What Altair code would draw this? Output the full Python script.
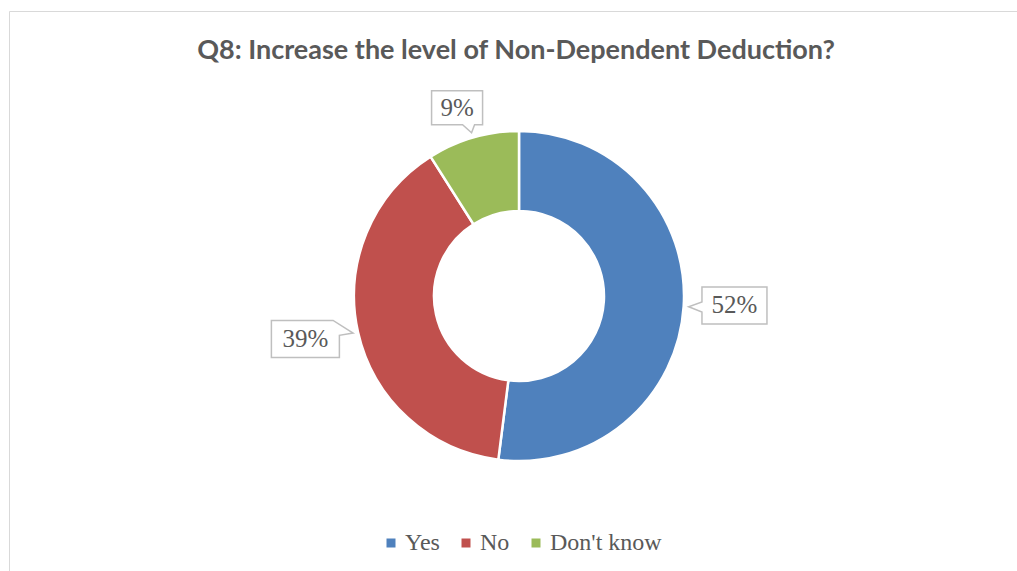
import math
import altair as alt
import pandas as pd

# ---- data ----
categories = ["Yes", "No", "Don't know"]
values = [52, 39, 9]
label_texts = ["52%", "39%", "9%"]
title_text = "Q8: Increase the level of Non-Dependent Deduction?"

# ---- styles / layout ----
colors = ["#4F81BD", "#C0504D", "#9BBB59"]
TEXT_COLOR = "#595959"
W, H = 1017, 571
CX, CY = 519, 296
R_OUT, R_IN = 165, 85
TIP_R = 170

# callout box shapes (pixel units, centred on label), with pointer tip offset
callouts = {
    "Yes": dict(path="M -32.5,-18.5 L 32.5,-18.5 L 32.5,18.5 L -32.5,18.5 L -32.5,6.5 L -45.8,1.2 L -32.5,-3.5 Z",
                tip=(-45.8, 1.2)),
    "No": dict(path="M -34,-18.5 L 27.7,-18.5 L 47.7,-5.8 L 34,-3.5 L 34,18.5 L -34,18.5 Z",
               tip=(47.7, -5.8)),
    "Don't know": dict(path="M -25.5,-17 L 25.5,-17 L 25.5,17 L 17.5,17 L 14.5,25 L 5.5,17 L -25.5,17 Z",
                       tip=(14.5, 25)),
}

total = sum(values)
rows = []
cum = 0
for i, (c, v, t) in enumerate(zip(categories, values, label_texts)):
    mid = (cum + v / 2) / total * 2 * math.pi
    cum += v
    tx = CX + TIP_R * math.sin(mid)
    ty = CY - TIP_R * math.cos(mid)
    ox, oy = callouts[c]["tip"]
    rows.append(dict(cat=c, value=v, idx=i, label=t, lx=tx - ox, ly=ty - oy))
df = pd.DataFrame(rows)

one = alt.Data(values=[{}])

frame_top = alt.Chart(one).mark_rule(color="#d9d9d9", strokeWidth=1).encode(
    x=alt.value(9.5), x2=alt.value(W), y=alt.value(11.5), y2=alt.value(11.5))
frame_left = alt.Chart(one).mark_rule(color="#d9d9d9", strokeWidth=1).encode(
    x=alt.value(9.5), x2=alt.value(9.5), y=alt.value(11.5), y2=alt.value(H))

title = alt.Chart(one).mark_text(
    text=title_text, font="Lato", fontWeight="bold", fontSize=27, color=TEXT_COLOR,
    align="center", baseline="alphabetic").encode(x=alt.value(516), y=alt.value(59))

donut = alt.Chart(df).mark_arc(innerRadius=R_IN, outerRadius=R_OUT, stroke="white", strokeWidth=2.5).encode(
    theta=alt.Theta("value:Q", stack=True),
    color=alt.Color("cat:N", scale=alt.Scale(domain=categories, range=colors),
                    legend=alt.Legend(orient="none", legendX=379, legendY=531, direction="horizontal",
                                      title=None, symbolType="square", symbolSize=81, symbolStrokeWidth=0,
                                      labelFont="Liberation Serif", labelFontSize=24, labelColor=TEXT_COLOR,
                                      columnPadding=14, labelOffset=2, padding=0)),
    order=alt.Order("idx:Q"),
    x=alt.value(CX), y=alt.value(CY),
)

box_layers = []
for c in categories:
    box_layers.append(
        alt.Chart(df).transform_filter(alt.datum.cat == c).mark_point(
            shape=callouts[c]["path"], fill="white", fillOpacity=1, stroke="#bfbfbf",
            strokeWidth=1.5, size=4, opacity=1).encode(
            x=alt.X("lx:Q", scale=None, axis=None),
            y=alt.Y("ly:Q", scale=None, axis=None),
        )
    )

labels = alt.Chart(df).mark_text(font="Liberation Serif", fontSize=25, color=TEXT_COLOR,
                                 align="center", baseline="middle").encode(
    x=alt.X("lx:Q", scale=None, axis=None),
    y=alt.Y("ly:Q", scale=None, axis=None),
    text="label:N",
)

chart = alt.layer(frame_top, frame_left, title, donut, *box_layers, labels).properties(
    width=W, height=H, autosize=alt.AutoSizeParams(type="none"), padding=0, background="white"
).configure_view(stroke=None)

chart.save("out.html", embed_options={"renderer": "svg", "actions": False})
